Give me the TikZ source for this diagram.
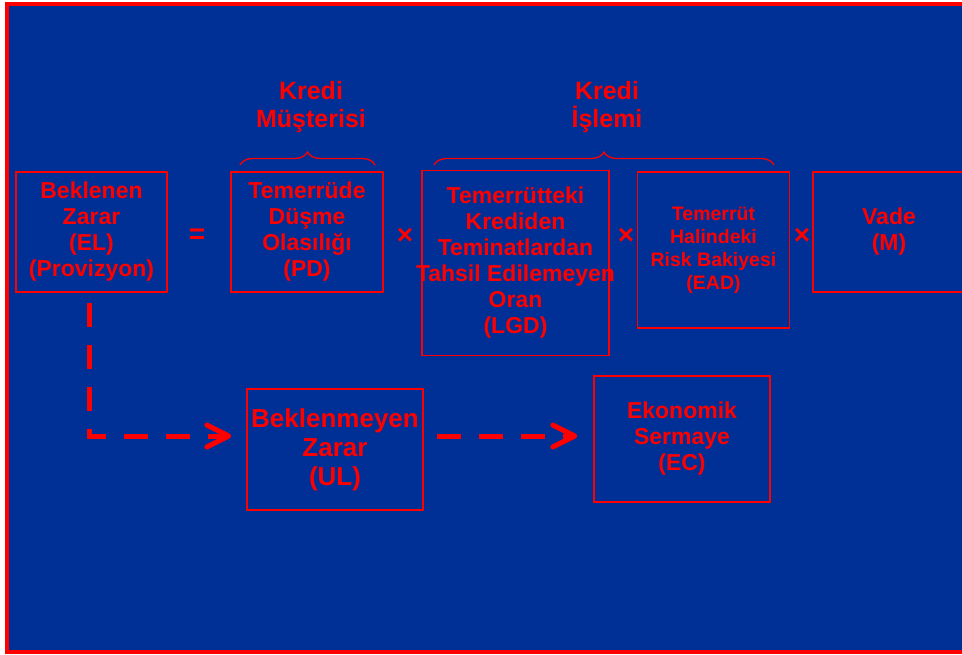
\documentclass[tikz,border=0pt]{standalone}
\usepackage{fontspec}
\setmainfont{Liberation Sans}
\usetikzlibrary{arrows.meta,decorations.pathreplacing}
\definecolor{slideblue}{RGB}{0,48,150}
\tikzset{
  box/.style={draw=red, line width=1.4pt, inner sep=0pt, align=center, text=red,
    font=\fontsize{23}{26}\selectfont\bfseries},
  smallbox/.style={box, font=\fontsize{19.5}{23}\selectfont\bfseries},
  bigbox/.style={box, font=\fontsize{26}{29}\selectfont\bfseries},
  grouplabel/.style={text=red, align=center, inner sep=0pt, font=\fontsize{25}{28}\selectfont\bfseries},
  oper/.style={text=red, inner sep=0pt, font=\fontsize{28}{30}\selectfont\bfseries},
  dasharrow/.style={draw=red, line width=5pt, dash pattern=on 24pt off 18pt,
    -{Straight Barb[length=22pt,width=22pt,round]}},
  bracestyle/.style={draw=red, line width=1.3pt, decorate, decoration={brace, amplitude=13pt}}
}
\begin{document}
\begin{tikzpicture}[x=1pt,y=-1pt]
\useasboundingbox (0,0) rectangle (962,654);
\fill[white] (0,0) rectangle (962,654);
\fill[slideblue] (7,4) rectangle (980,652);
\draw[red, line width=4pt] (7,4) rectangle (980,652);

% boxes
\node[box, minimum width=151pt, minimum height=120pt] (EL) at (91.5,232) {Beklenen\\Zarar\\(EL)\\(Provizyon)};
\node[box, minimum width=152pt, minimum height=120pt] (PD) at (307,232) {Temerrüde\\Düşme\\Olasılığı\\(PD)};
\node[box, minimum width=187pt, minimum height=185pt] (LGD) at (515.5,263) {Temerrütteki\\Krediden\\Teminatlardan\\\makebox[0pt]{Tahsil Edilemeyen}\\Oran\\(LGD)};
\node[smallbox, minimum width=152pt, minimum height=156pt] (EAD) at (713.5,250) {Temerrüt\\Halindeki\\Risk Bakiyesi\\(EAD)};
\node[box, minimum width=152pt, minimum height=120pt] (M) at (889,232) {Vade\\(M)};
\node[bigbox, minimum width=176pt, minimum height=121pt] (UL) at (335,449.5) {Beklenmeyen\\Zarar\\(UL)};
\node[box, minimum width=176pt, minimum height=126pt] (EC) at (682,439) {Ekonomik\\Sermaye\\(EC)};

% operators
\node[oper] (eq) at (197,236) {=};
\node[oper] (x1) at (405,236) {×};
\node[oper] (x2) at (626,236) {×};
\node[oper] (x3) at (802,236) {×};

% group labels and braces
\node[grouplabel] (gm) at (311,107) {Kredi\\Müşterisi};
\node[grouplabel] (gi) at (607,107) {Kredi\\İşlemi};
\draw[bracestyle] (240,165) -- (375,165);
\draw[bracestyle] (434,165) -- (774,165);

% dashed arrows
\draw[dasharrow, shorten <=10pt, shorten >=15pt] ([xshift=-2.5pt]EL.south) |- ([yshift=13.5pt]UL.west);
\draw[dasharrow, shorten <=13pt, shorten >=16pt] ([yshift=13.5pt]UL.east) -- ([yshift=13.5pt]UL.east -| EC.west);
\end{tikzpicture}
\end{document}
